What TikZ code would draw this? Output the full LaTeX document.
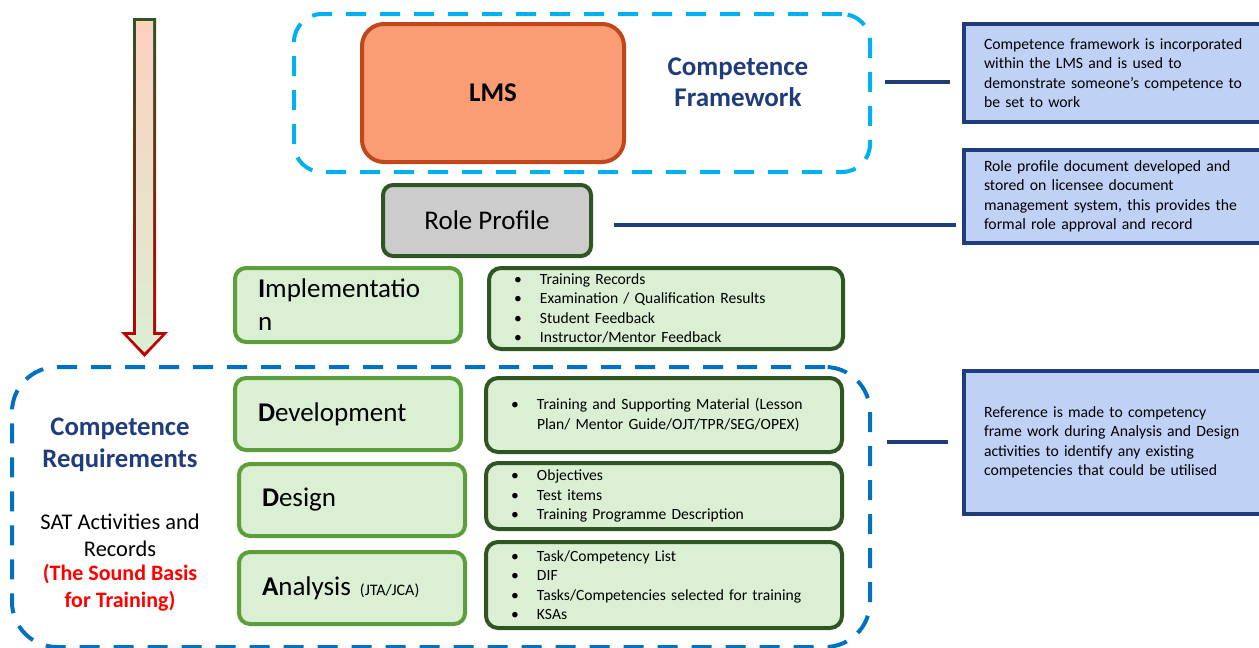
\documentclass[tikz,border=0pt]{standalone}
\usepackage{fontspec}
\setmainfont{Carlito}
\usetikzlibrary{calc,positioning}

\definecolor{fwcyan}{HTML}{00B0F0}
\definecolor{reqblue}{HTML}{0070C0}
\definecolor{lmsfill}{HTML}{FA9C74}
\definecolor{lmsedge}{HTML}{C0461B}
\definecolor{navy}{HTML}{1F3D7A}
\definecolor{notefill}{HTML}{BFD1F5}
\definecolor{palegreen}{HTML}{DAEFD3}
\definecolor{midgreen}{HTML}{5A9F3A}
\definecolor{darkgreen}{HTML}{2E5522}
\definecolor{rolegrey}{HTML}{CCCCCC}

\newcommand{\fs}[2]{\fontsize{#1}{#2}\selectfont}
\newcommand{\bitem}[1]{\makebox[26pt][l]{\textbullet}#1}

\tikzset{
  frame/.style={dash pattern=on 20pt off 14pt, line width=4pt, rounded corners=28pt, anchor=north west, inner sep=0pt},
  stagebox/.style={draw=midgreen, fill=palegreen, line width=4pt, rounded corners=11pt, anchor=north west,
    inner xsep=23pt, text width=180pt, minimum height=72pt, align=left, font=\fs{27}{33}},
  listbox/.style={draw=darkgreen, fill=palegreen, line width=4pt, rounded corners=12pt, anchor=north west,
    inner xsep=25pt, text width=306pt, align=left, font=\fs{15.6}{19.5}},
  notebox/.style={draw=navy, fill=notefill, line width=4pt, anchor=north west,
    inner xsep=20pt, text width=264pt, align=left, font=\fs{15.7}{19.5}},
  link/.style={draw=navy, line width=4.5pt},
}

\begin{document}
\begin{tikzpicture}[x=1pt, y=-1pt]
  %%%%% START %%%%%
  \useasboundingbox (0,0) rectangle (1259,648);

  % big arrow on the left
  \shade[top color=darkgreen, bottom color=red!75!black]
    (133,18) -- (156,18) -- (156,332) -- (168,332) -- (144.5,357) -- (121,332) -- (133,332) -- cycle;
  \shade[top color={rgb,255:red,253;green,208;blue,190}, middle color={rgb,255:red,248;green,174;blue,144},
         bottom color=palegreen]
    (136,21) -- (153,21) -- (153,335) -- (161.5,335) -- (144.5,352.5) -- (127.5,335) -- (136,335) -- cycle;

  % competence framework
  \node[frame, draw=fwcyan, minimum width=576pt, minimum height=158pt] (fw) at (292,12) {};
  \node[draw=lmsedge, fill=lmsfill, line width=4pt, rounded corners=22pt, anchor=north west,
        minimum width=262pt, minimum height=138pt, font=\fs{27}{30}\bfseries] (lms) at (360,22) {LMS};
  \node[navy, align=center, font=\fs{27}{31}\bfseries] (fwtitle) at (738,82) {Competence\\Framework};

  \node[draw=darkgreen, fill=rolegrey, line width=4pt, rounded corners=10pt, anchor=north west,
        minimum width=208pt, minimum height=71pt, font=\fs{27}{30}] (role) at (381,183) {Role Profile};

  % implementation
  \node[stagebox, minimum height=74pt] (impl) at (233,266) {\textbf{I}mplementatio\\n};
  \node[listbox, minimum height=81pt, text width=304pt] (impllist) at (487,266)
    {\bitem{Training Records}\\\bitem{Examination / Qualification Results}\\\bitem{Student Feedback}\\\bitem{Instructor/Mentor Feedback}};

  % competence requirements
  \node[frame, draw=reqblue, rounded corners=45pt, minimum width=858pt, minimum height=280pt] (req) at (10,365) {};
  \node[navy, align=center, font=\fs{26.7}{32}\bfseries] (reqtitle) at (120,445) {Competence\\Requirements};
  \node[align=center, font=\fs{22.4}{27}] (sat) at (120,535) {SAT Activities and\\Records};
  \node[red, align=center, font=\fs{22}{27}\bfseries] (basis) at (120,588) {(The Sound Basis\\for Training)};

  \node[stagebox] (dev) at (233,376) {\textbf{D}evelopment};
  \node[stagebox] (des) at (237,462) {\textbf{D}esign};
  \node[stagebox] (ana) at (237,550) {\textbf{A}nalysis {\fs{16}{18}(JTA/JCA)}};

  \node[listbox, minimum height=74pt] (devlist) at (484,376)
    {\bitem{Training and Supporting Material (Lesson}\\\hspace*{26pt}Plan/ Mentor Guide/OJT/TPR/SEG/OPEX)};
  \node[listbox, minimum height=66pt] (deslist) at (484,461)
    {\bitem{Objectives}\\\bitem{Test items}\\\bitem{Training Programme Description}};
  \node[listbox, minimum height=86pt] (analist) at (484,540)
    {\bitem{Task/Competency List}\\\bitem{DIF}\\\bitem{Tasks/Competencies selected for training}\\\bitem{KSAs}};

  % notes on the right (cut by the page edge)
  \node[notebox, minimum height=98pt] (note1) at (962,22)
    {Competence framework is incorporated\\within the LMS and is used to\\demonstrate someone's competence to\\be set to work};
  \node[notebox, minimum height=93pt] (note2) at (962,148)
    {Role profile document developed and\\stored on licensee document\\management system, this provides the\\formal role approval and record};
  \node[notebox, minimum height=143pt] (note3) at (962,369)
    {Reference is made to competency\\frame work during Analysis and Design\\activities to identify any existing\\competencies that could be utilised};

  % links
  \coordinate (fwlink) at (885,82);
  \coordinate (reqlink) at (887,442);
  \draw[link, shorten >=12pt] (fwlink) -- (fwlink -| note1.west);
  \draw[link, shorten <=21pt, shorten >=6pt] ([yshift=-4.5pt]role.east) -- ([yshift=-4.5pt]role.east -| note2.west);
  \draw[link, shorten >=14pt] (reqlink) -- (reqlink -| note3.west);
  %%%%% END %%%%%
\end{tikzpicture}
\end{document}
